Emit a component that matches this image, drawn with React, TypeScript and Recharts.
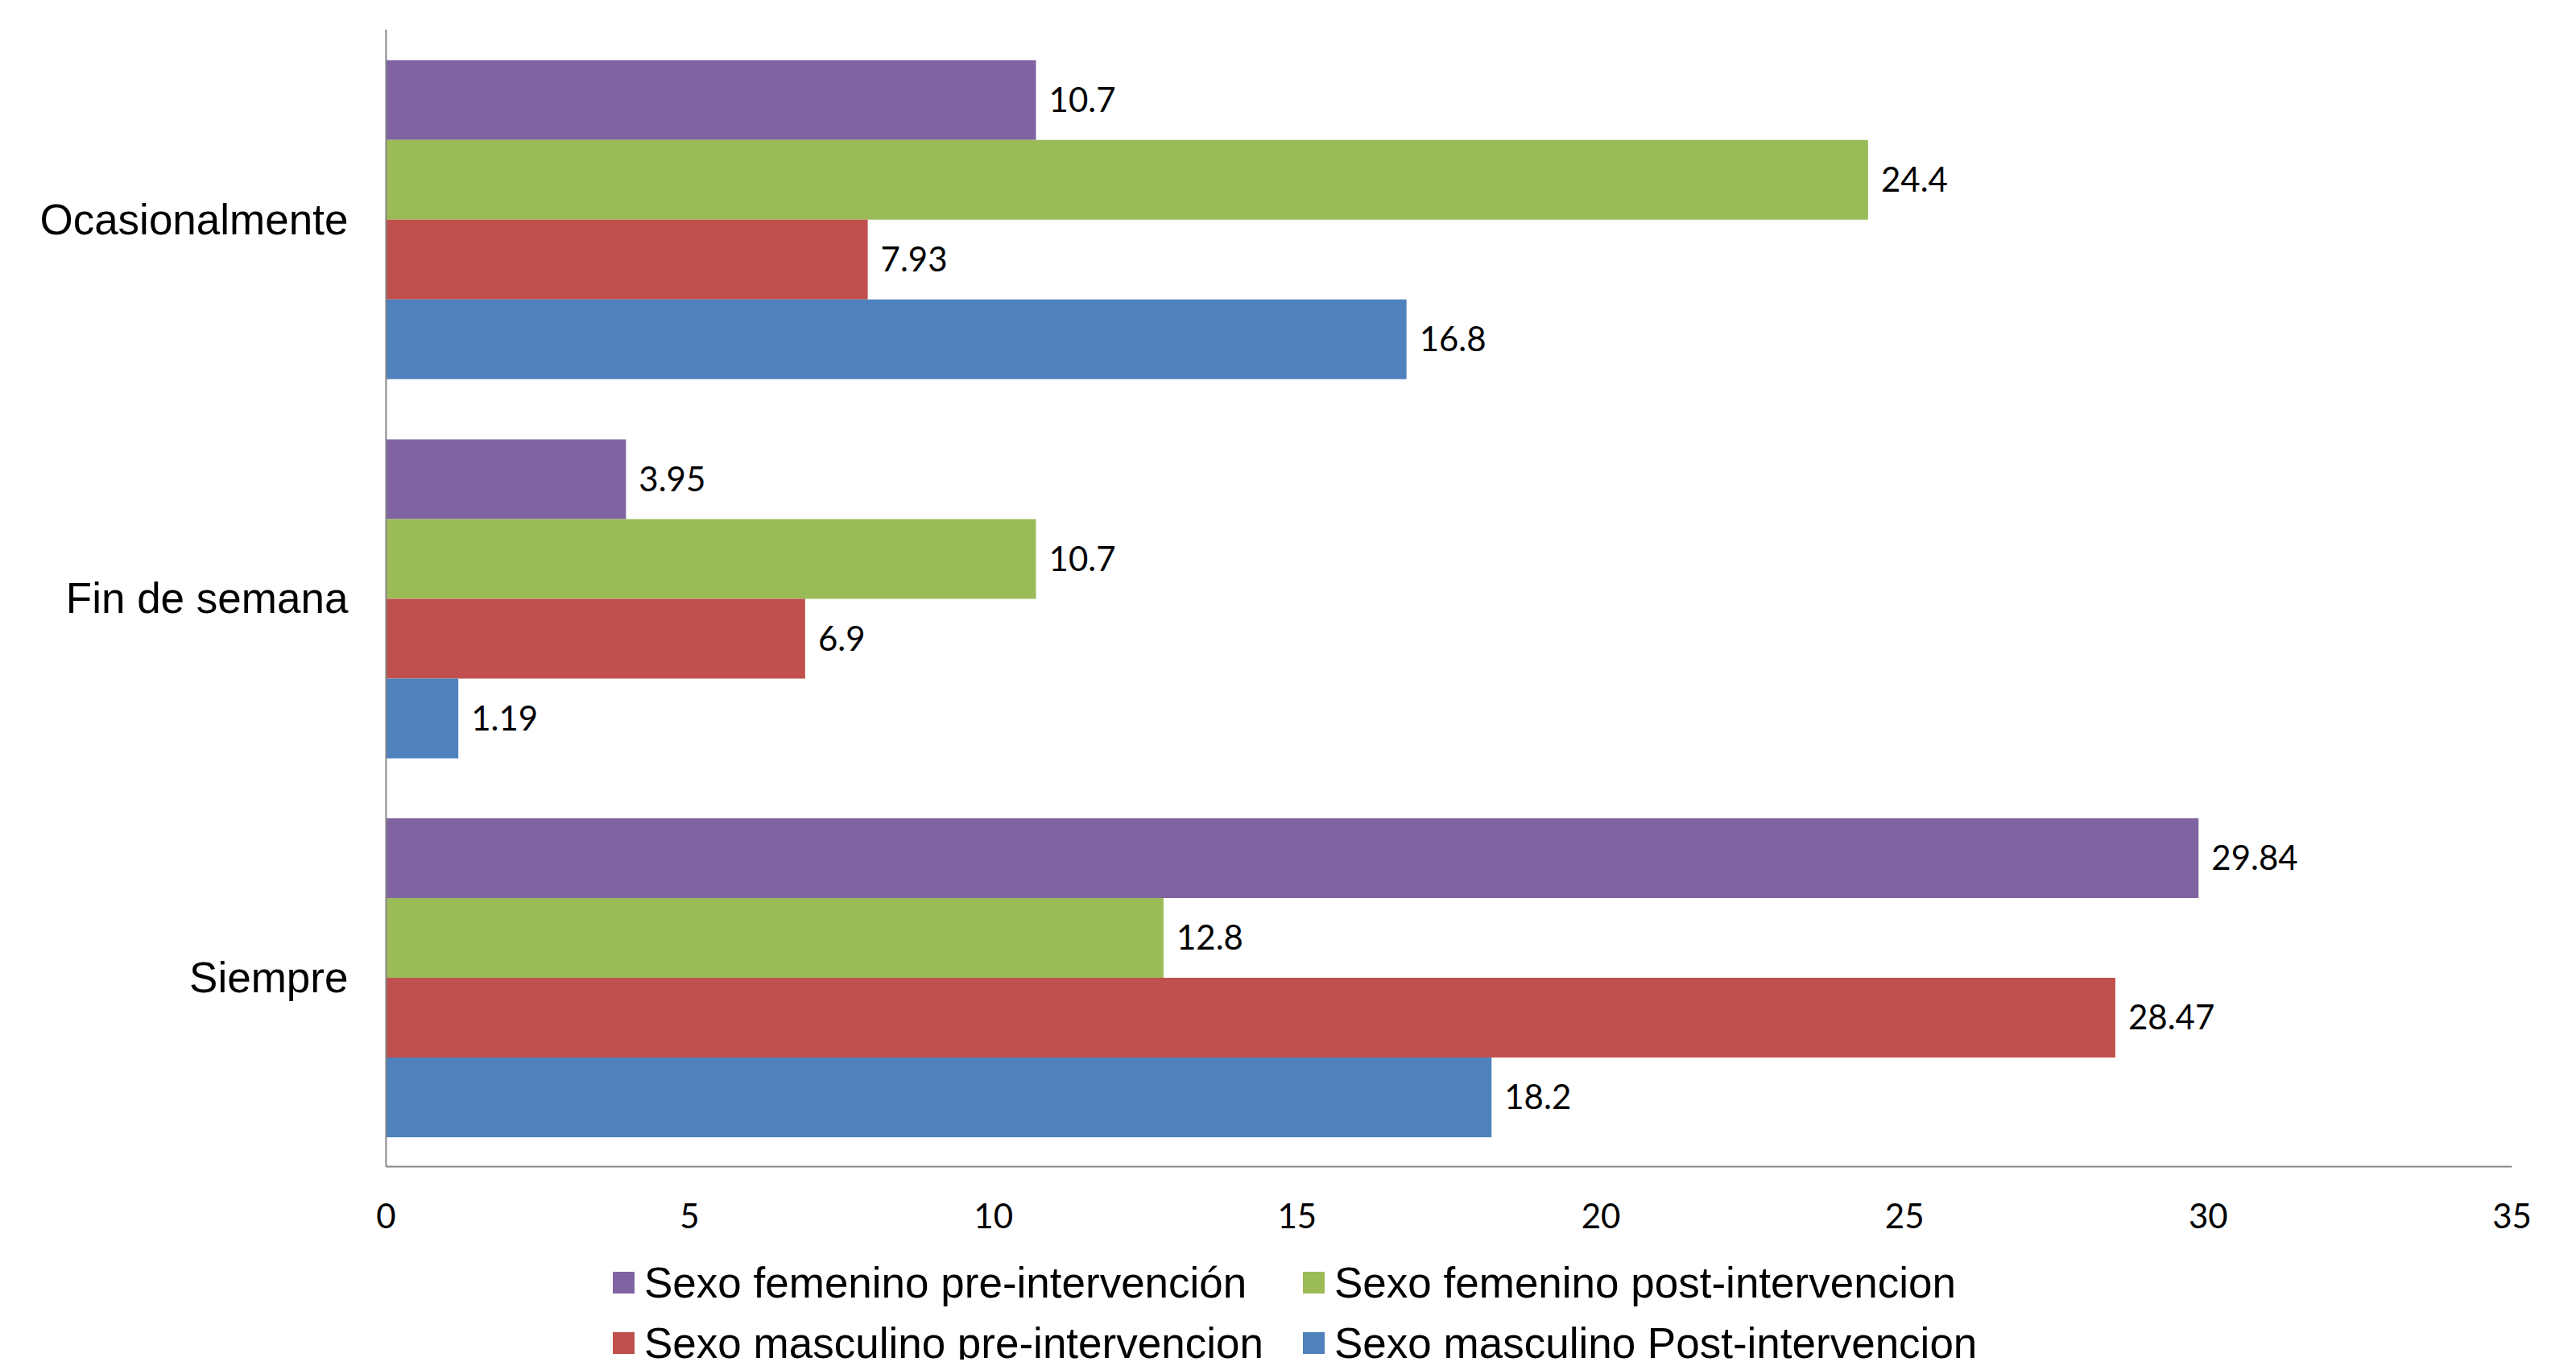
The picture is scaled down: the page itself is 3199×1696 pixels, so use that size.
import React from 'react';
import { BarChart, Bar, XAxis, YAxis, LabelList, Legend } from 'recharts';

const categories = ['Ocasionalmente', 'Fin de semana', 'Siempre'];
const femeninoPre = [10.7, 3.95, 29.84];
const femeninoPost = [24.4, 10.7, 12.8];
const masculinoPre = [7.93, 6.9, 28.47];
const masculinoPost = [16.8, 1.19, 18.2];
const xTicks = [0, 5, 10, 15, 20, 25, 30, 35];

const series = [
  { key: 'femPre', name: 'Sexo femenino pre-intervención', color: '#8064A2', values: femeninoPre },
  { key: 'femPost', name: 'Sexo femenino post-intervencion', color: '#9BBB59', values: femeninoPost },
  { key: 'mascPre', name: 'Sexo masculino pre-intervencion', color: '#C0504D', values: masculinoPre },
  { key: 'mascPost', name: 'Sexo masculino Post-intervencion', color: '#4F81BD', values: masculinoPost },
];

const data = categories.map((cat, i) => {
  const row: Record<string, any> = { cat };
  series.forEach((s) => {
    row[s.key] = s.values[i];
  });
  return row;
});

const numFont = 'Lato, "Open Sans", sans-serif';
const textFont = '"Liberation Sans", Arial, sans-serif';

const renderLegend = () => (
  <div style={{ position: 'relative', width: 2000, height: 150 }}>
    {series.map((s, i) => {
      const col = i % 2;
      const row = Math.floor(i / 2);
      return (
        <div
          key={s.key}
          style={{
            position: 'absolute',
            left: col * 857,
            top: row * 75,
            height: 75,
            display: 'flex',
            alignItems: 'center',
            whiteSpace: 'nowrap',
          }}
        >
          <span style={{ display: 'inline-block', width: 27, height: 27, background: s.color, marginRight: 12 }} />
          <span style={{ fontFamily: textFont, fontSize: 53, color: '#000', lineHeight: '75px' }}>{s.name}</span>
        </div>
      );
    })}
  </div>
);

export default function App() {
  return (
    <BarChart
      width={3183}
      height={1680}
      data={data}
      layout="vertical"
      margin={{ top: 28.7, right: 71.5, bottom: 139.5, left: 0 }}
      barCategoryGap="8.1%"
      barGap={0}
    >
      <XAxis
        type="number"
        domain={[0, 35]}
        ticks={xTicks}
        interval={0}
        height={100}
        axisLine={{ stroke: '#868686', strokeWidth: 2 }}
        tickLine={false}
        tickSize={0}
        tickMargin={47}
        tick={{ fontFamily: numFont, fontSize: 42, fill: '#000' }}
      />
      <YAxis
        type="category"
        dataKey="cat"
        width={471.4}
        axisLine={{ stroke: '#868686', strokeWidth: 2 }}
        tickLine={false}
        tickSize={0}
        tickMargin={47}
        tick={{ fontFamily: textFont, fontSize: 53, fill: '#000' }}
      />
      <Legend
        layout="vertical"
        verticalAlign="middle"
        align="center"
        wrapperStyle={{ left: 753, top: 1547, width: 2000, height: 150 }}
        content={renderLegend}
      />
      {series.map((s) => (
        <Bar key={s.key} dataKey={s.key} name={s.name} fill={s.color} isAnimationActive={false}>
          <LabelList
            dataKey={s.key}
            position="right"
            offset={16}
            style={{ fontFamily: numFont, fontSize: 42, fill: '#000' }}
          />
        </Bar>
      ))}
    </BarChart>
  );
}
